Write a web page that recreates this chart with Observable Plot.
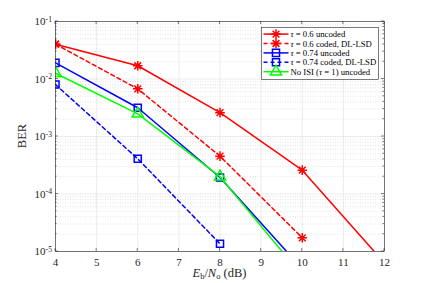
<!DOCTYPE html>
<html><head><meta charset="utf-8">
<script src="https://cdn.jsdelivr.net/npm/d3@7"></script>
<script src="https://cdn.jsdelivr.net/npm/@observablehq/plot@0.6"></script>
<style>
body{margin:0;background:#fff}
svg{font-family:"Liberation Serif","Times New Roman",serif}
</style>
</head><body><div id="chart"></div>
<script>
// Data
const ebno = [4, 6, 8, 10, 12];
const tau06Uncoded = [0.0403, 0.017, 0.0026, 2.6e-4, 6.3e-6];
const tau06Coded = [0.0403, 0.00675, 4.55e-4, 1.73e-5];
const tau074Uncoded = [0.0191, 0.00316, 1.94e-4, 5.0e-6];
const tau074Coded = [0.008, 4.1e-4, 1.36e-5];
const noIsiUncoded = [0.0126, 0.00248, 2.0e-4, 3.8e-6];
const legendLabels = ["τ = 0.6 uncoded", "τ = 0.6 coded, DL-LSD", "τ = 0.74 uncoded", "τ = 0.74 coded, DL-LSD", "No ISI (τ = 1) uncoded"];
const xTicks = [4, 5, 6, 7, 8, 9, 10, 11, 12];
const yDecades = [1e-5, 1e-4, 1e-3, 1e-2, 1e-1];
const yMinorMultipliers = [2, 3, 4, 5, 6, 7, 8, 9];

const minorY = [];
for (const d of yDecades.slice(0, -1)) for (const m of yMinorMultipliers) minorY.push(d * m);

// MATLAB-like 8-armed asterisk
const asterisk = {
  draw(ctx, size) {
    const r = Math.sqrt(size / Math.PI);
    const q = r * 0.7071;
    ctx.moveTo(-r, 0); ctx.lineTo(r, 0);
    ctx.moveTo(0, -r); ctx.lineTo(0, r);
    ctx.moveTo(-q, -q); ctx.lineTo(q, q);
    ctx.moveTo(-q, q); ctx.lineTo(q, -q);
  }
};

const series = [
  {name: legendLabels[0], y: tau06Uncoded, color: "#ff0000", dash: null, symbol: asterisk, r: 4.8},
  {name: legendLabels[1], y: tau06Coded, color: "#ff0000", dash: "4,3", symbol: asterisk, r: 4.8},
  {name: legendLabels[2], y: tau074Uncoded, color: "#0000ff", dash: null, symbol: "square", r: 4},
  {name: legendLabels[3], y: tau074Coded, color: "#0000ff", dash: "4,3", symbol: "square", r: 4},
  {name: legendLabels[4], y: noIsiUncoded, color: "#00ff00", dash: null, symbol: "triangle", r: 4.2}
];
const rows = s => s.y.map((v, i) => ({x: ebno[i], y: v}));

const seriesMarks = series.flatMap(s => [
  Plot.line(rows(s), {x: "x", y: "y", stroke: s.color, strokeWidth: 1.5, strokeDasharray: s.dash, clip: true}),
  Plot.dot(rows(s), {x: "x", y: "y", stroke: s.color, strokeWidth: 1.5, fill: "none", symbol: s.symbol, r: s.r, clip: true})
]);

const chart = Plot.plot({
  width: 424, height: 283,
  marginLeft: 55, marginRight: 40, marginTop: 21, marginBottom: 32,
  style: {background: "#fff", color: "#262626", fontSize: "11px", fontFamily: "Liberation Serif, serif"},
  x: {domain: [4, 12]},
  y: {type: "log", domain: [1e-5, 1e-1]},
  marks: [
    Plot.gridY(minorY, {stroke: "#c8c8c8", strokeOpacity: 1, strokeDasharray: "1,1.5", strokeWidth: 0.5}),
    Plot.gridX(xTicks, {stroke: "#dedede", strokeOpacity: 1, strokeWidth: 0.6}),
    Plot.gridY(yDecades, {stroke: "#dedede", strokeOpacity: 1, strokeWidth: 0.6}),
    Plot.axisX(xTicks, {tickSize: 0, tickPadding: 7, label: null, fontSize: 11}),
    Plot.axisY(yDecades, {tickSize: 0, tickPadding: 3.5, label: null, fontSize: 11,
      tickFormat: d => "10^" + Math.round(Math.log10(d))}),
    ...seriesMarks,
    Plot.frame({stroke: "#262626", strokeWidth: 0.6})
  ]
});

document.getElementById("chart").appendChild(chart);
const svg = d3.select(chart);
const sx = chart.scale("x"), sy = chart.scale("y");
const X0 = sx.apply(4), X1 = sx.apply(12), Y0 = sy.apply(1e-5), Y1 = sy.apply(1e-1);

// superscripts on y tick labels
svg.selectAll('g[aria-label="y-axis tick label"] text').each(function () {
  const parts = this.textContent.split("^");
  this.textContent = parts[0];
  d3.select(this).append("tspan").attr("dy", "-0.45em").attr("font-size", "0.7em").text(parts[1]);
});

// inward ticks
const tk = svg.append("g").attr("stroke", "#262626").attr("stroke-width", 0.6);
for (const v of xTicks) {
  const px = sx.apply(v);
  tk.append("line").attr("x1", px).attr("x2", px).attr("y1", Y0).attr("y2", Y0 - 3);
  tk.append("line").attr("x1", px).attr("x2", px).attr("y1", Y1).attr("y2", Y1 + 3);
}
for (const v of yDecades) {
  const py = sy.apply(v);
  tk.append("line").attr("x1", X0).attr("x2", X0 + 3).attr("y1", py).attr("y2", py);
  tk.append("line").attr("x1", X1).attr("x2", X1 - 3).attr("y1", py).attr("y2", py);
}
for (const v of minorY) {
  const py = sy.apply(v);
  tk.append("line").attr("x1", X0).attr("x2", X0 + 1.6).attr("y1", py).attr("y2", py);
  tk.append("line").attr("x1", X1).attr("x2", X1 - 1.6).attr("y1", py).attr("y2", py);
}

// axis titles
svg.append("text").attr("transform", `translate(22,${(Y0 + Y1) / 2}) rotate(-90)`)
  .attr("text-anchor", "middle").attr("dy", "0.35em").attr("font-size", 12.5).attr("fill", "#262626").text("BER");
const xl = svg.append("text").attr("x", (X0 + X1) / 2).attr("y", 277).attr("text-anchor", "middle")
  .attr("font-size", 12.5).attr("fill", "#262626");
xl.append("tspan").attr("font-style", "italic").text("E");
xl.append("tspan").attr("font-size", 8.5).attr("dy", 2).text("b");
xl.append("tspan").attr("dy", -2).text("/");
xl.append("tspan").attr("font-style", "italic").text("N");
xl.append("tspan").attr("font-size", 8.5).attr("dy", 2).text("o");
xl.append("tspan").attr("dy", -2).text(" (dB)");

// legend
const lg = svg.append("g").attr("transform", "translate(261.5,27.5)").attr("text-anchor", "start");
lg.append("rect").attr("width", 117).attr("height", 52).attr("fill", "#fff").attr("stroke", "#262626").attr("stroke-width", 0.6);
series.forEach((s, i) => {
  const y = 6.6 + i * 9.4;
  lg.append("line").attr("x1", 2).attr("x2", 27).attr("y1", y).attr("y2", y)
    .attr("stroke", s.color).attr("stroke-width", 1.5).attr("stroke-dasharray", s.dash);
  const sym = typeof s.symbol === "string" ? (s.symbol === "square" ? d3.symbolSquare : d3.symbolTriangle) : s.symbol;
  lg.append("path").attr("transform", `translate(14.5,${y})`)
    .attr("d", d3.symbol(sym, Math.PI * s.r * s.r)()).attr("fill", "none").attr("stroke", s.color).attr("stroke-width", 1.5);
  const t = lg.append("text").attr("x", 29).attr("y", y).attr("dy", "0.35em").attr("font-size", 8.7).attr("fill", "#000").attr("text-anchor", "start");
  const m = s.name.split("τ");
  if (m.length > 1) {
    t.append("tspan").text(m[0]);
    t.append("tspan").attr("font-style", "italic").text("τ");
    t.append("tspan").text(m[1]);
  } else t.text(s.name);
});
</script>
</body></html>
